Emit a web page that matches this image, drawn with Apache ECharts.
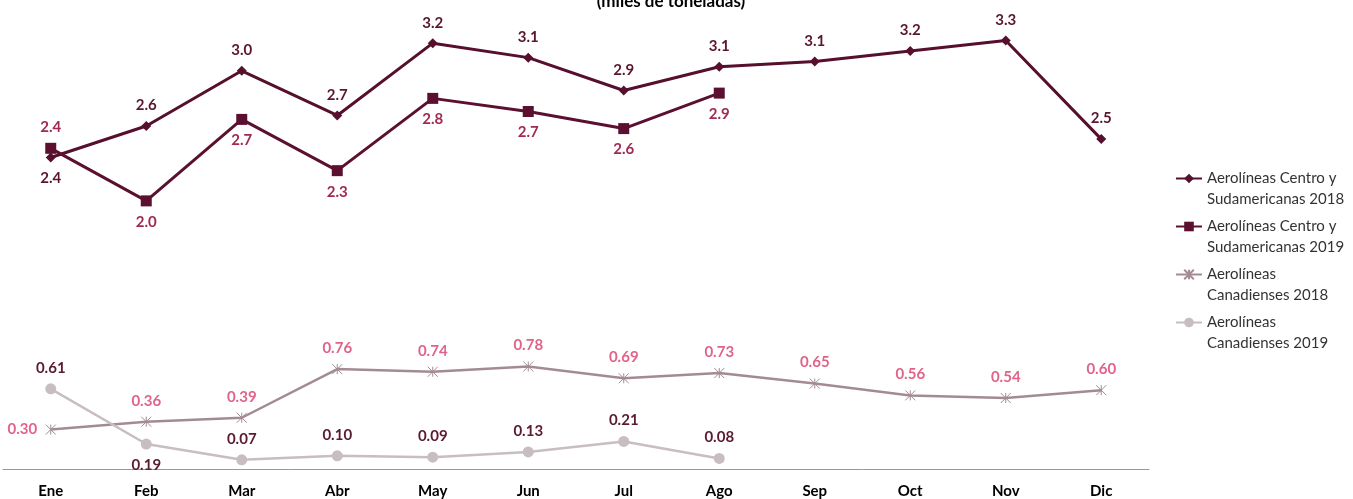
<!DOCTYPE html>
<html><head><meta charset="utf-8">
<script src="https://cdn.jsdelivr.net/npm/echarts@6/dist/echarts.min.js"></script>
<style>html,body{margin:0;padding:0;background:#fff}#c{width:1353px;height:499px}</style>
</head><body><div id="c"></div>
<script>
const categories = ['Ene','Feb','Mar','Abr','May','Jun','Jul','Ago','Sep','Oct','Nov','Dic'];
const cs2018 = [2.37,2.61,3.03,2.69,3.24,3.13,2.88,3.06,3.10,3.18,3.26,2.51];
const cs2019 = [2.44,2.04,2.66,2.27,2.82,2.72,2.59,2.86];
const can2018 = [0.30,0.36,0.39,0.76,0.74,0.78,0.69,0.73,0.65,0.56,0.54,0.60];
const can2019 = [0.61,0.19,0.07,0.10,0.09,0.13,0.21,0.08];
const names = ['Aerolíneas Centro y\nSudamericanas 2018','Aerolíneas Centro y\nSudamericanas 2019','Aerolíneas\nCanadienses 2018','Aerolíneas\nCanadienses 2019'];

const FONT = 'Lato';
function lbl(color, pos, dec){
  return {show:true, position:pos, distance:8, color:color, fontFamily:FONT, fontWeight:'bold', fontSize:15,
    formatter:p=>p.value.toFixed(dec)};
}
function dataWith(arr, posMap){
  return arr.map((v,i)=> posMap[i] ? {value:v, label:{position:posMap[i]}} : v);
}
const starPath = 'path://M0,0L10,10M10,0L0,10M5,0L5,10';

const chart = echarts.init(document.getElementById('c'));
chart.setOption({
  animation:false,
  title:{text:'(miles de toneladas)', left:666, textAlign:'center', top:-12,
    textStyle:{fontFamily:FONT, fontWeight:'bold', fontSize:17, color:'#000'}},
  grid:{left:3, right:204, top:9, bottom:30},
  xAxis:{type:'category', data:categories, boundaryGap:true,
    axisLine:{lineStyle:{color:'#999', width:1}}, axisTick:{show:false},
    axisLabel:{color:'#000', fontFamily:FONT, fontWeight:'bold', fontSize:15, margin:15}},
  yAxis:{type:'value', min:0, max:3.5, show:false, splitLine:{show:false}},
  legend:{orient:'vertical', left:1170, top:142, itemWidth:26, itemHeight:12, itemGap:-15,
    data:names, formatter:n=>'\n'+n,
    textStyle:{fontFamily:FONT, fontSize:15, color:'#333', lineHeight:21}},
  series:[
    {name:names[0], type:'line', data:dataWith(cs2018,{0:'bottom'}), symbol:'diamond', symbolSize:10,
      lineStyle:{color:'#560f2c', width:3}, itemStyle:{color:'#560f2c'},
      label:lbl('#5a1531','top',1)},
    {name:names[1], type:'line', data:dataWith(cs2019,{0:'top'}), symbol:'rect', symbolSize:11,
      lineStyle:{color:'#5c1030', width:3}, itemStyle:{color:'#5c1030'},
      label:lbl('#a02a52','bottom',1)},
    {name:names[2], type:'line', data:dataWith(can2018,{0:'left'}), symbol:starPath, symbolSize:10,
      lineStyle:{color:'#a38b93', width:2.5}, itemStyle:{color:'#a38b93', borderColor:'#a38b93', borderWidth:1},
      label:lbl('#e0648a','top',2)},
    {name:names[3], type:'line', data:dataWith(can2019,{1:'bottom'}), symbol:'circle', symbolSize:11,
      lineStyle:{color:'#c8bdc0', width:2.5}, itemStyle:{color:'#c8bdc0'},
      label:lbl('#5a1a30','top',2)}
  ]
});
</script></body></html>
